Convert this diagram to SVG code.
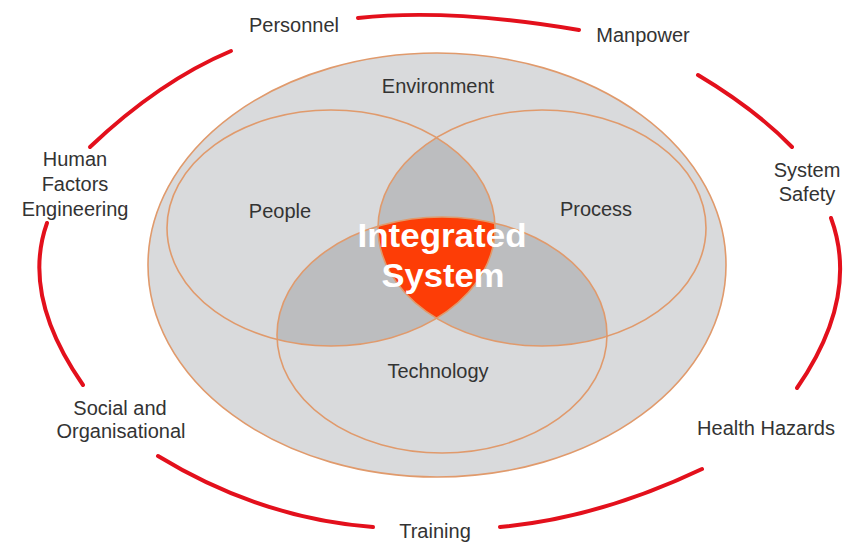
<svg xmlns="http://www.w3.org/2000/svg" width="844" height="544" viewBox="0 0 844 544">
<style>
.lbl{font-family:"Liberation Sans",Arial,sans-serif;font-size:20px;fill:#333;text-anchor:middle}
.ring{fill:none;stroke:#e3101c;stroke-width:4;stroke-linecap:round}
.circ{fill:none;stroke:#e09a6c;stroke-width:1.6}
.lens{fill:#bcbdbf}
.big{font-family:"Liberation Sans",Arial,sans-serif;font-size:33px;font-weight:bold;fill:#fff;text-anchor:middle}
</style>
<defs>
<clipPath id="cP"><ellipse cx="331" cy="228" rx="164" ry="118"/></clipPath>
<clipPath id="cR"><ellipse cx="542" cy="228" rx="164" ry="118"/></clipPath>
<clipPath id="cT"><ellipse cx="442" cy="335" rx="165" ry="118"/></clipPath>
</defs>
<rect width="844" height="544" fill="#fff"/>
<g id="connectors">
<path class="ring" d="M358,18 Q450,8 579,30"/>
<path class="ring" d="M231,51 Q159.5,81 90,147"/>
<path class="ring" d="M698,75 Q755,109 792,147"/>
<path class="ring" d="M831,218 Q860,297 797,388"/>
<path class="ring" d="M47,223 Q21,296 83,385"/>
<path class="ring" d="M158,456 Q260.5,518.5 373,527"/>
<path class="ring" d="M500,527 Q599,518 702,469"/>
</g>
<g id="environment">
<ellipse cx="437" cy="265" rx="289" ry="212" fill="#d9dadc" stroke="#e09a6c" stroke-width="1.6"/>
<text class="lbl" x="438" y="93">Environment</text>
</g>
<g id="overlaps">
<ellipse class="lens" cx="331" cy="228" rx="164" ry="118" clip-path="url(#cR)"/>
<ellipse class="lens" cx="331" cy="228" rx="164" ry="118" clip-path="url(#cT)"/>
<ellipse class="lens" cx="542" cy="228" rx="164" ry="118" clip-path="url(#cT)"/>
<g clip-path="url(#cP)"><ellipse cx="442" cy="335" rx="165" ry="118" fill="#fd3d06" clip-path="url(#cR)"/></g>
</g>
<g id="people">
<ellipse class="circ" cx="331" cy="228" rx="164" ry="118"/>
<text class="lbl" x="280" y="218">People</text>
</g>
<g id="process">
<ellipse class="circ" cx="542" cy="228" rx="164" ry="118"/>
<text class="lbl" x="596" y="216">Process</text>
</g>
<g id="technology">
<ellipse class="circ" cx="442" cy="335" rx="165" ry="118"/>
<text class="lbl" x="438" y="378">Technology</text>
</g>
<g id="integrated-system">
<text class="big" x="442" y="247" textLength="169" lengthAdjust="spacingAndGlyphs">Integrated</text>
<text class="big" x="443" y="287" textLength="123" lengthAdjust="spacingAndGlyphs">System</text>
</g>
<g id="personnel"><text class="lbl" x="294" y="32">Personnel</text></g>
<g id="manpower"><text class="lbl" x="643" y="42">Manpower</text></g>
<g id="system-safety"><text class="lbl" x="807" y="177">System</text><text class="lbl" x="807" y="201">Safety</text></g>
<g id="health-hazards"><text class="lbl" x="766" y="435">Health Hazards</text></g>
<g id="training"><text class="lbl" x="435" y="538">Training</text></g>
<g id="social-organisational"><text class="lbl" x="120" y="415">Social and</text><text class="lbl" x="121" y="438">Organisational</text></g>
<g id="human-factors"><text class="lbl" x="75" y="166">Human</text><text class="lbl" x="75" y="191">Factors</text><text class="lbl" x="75" y="216">Engineering</text></g>
</svg>
